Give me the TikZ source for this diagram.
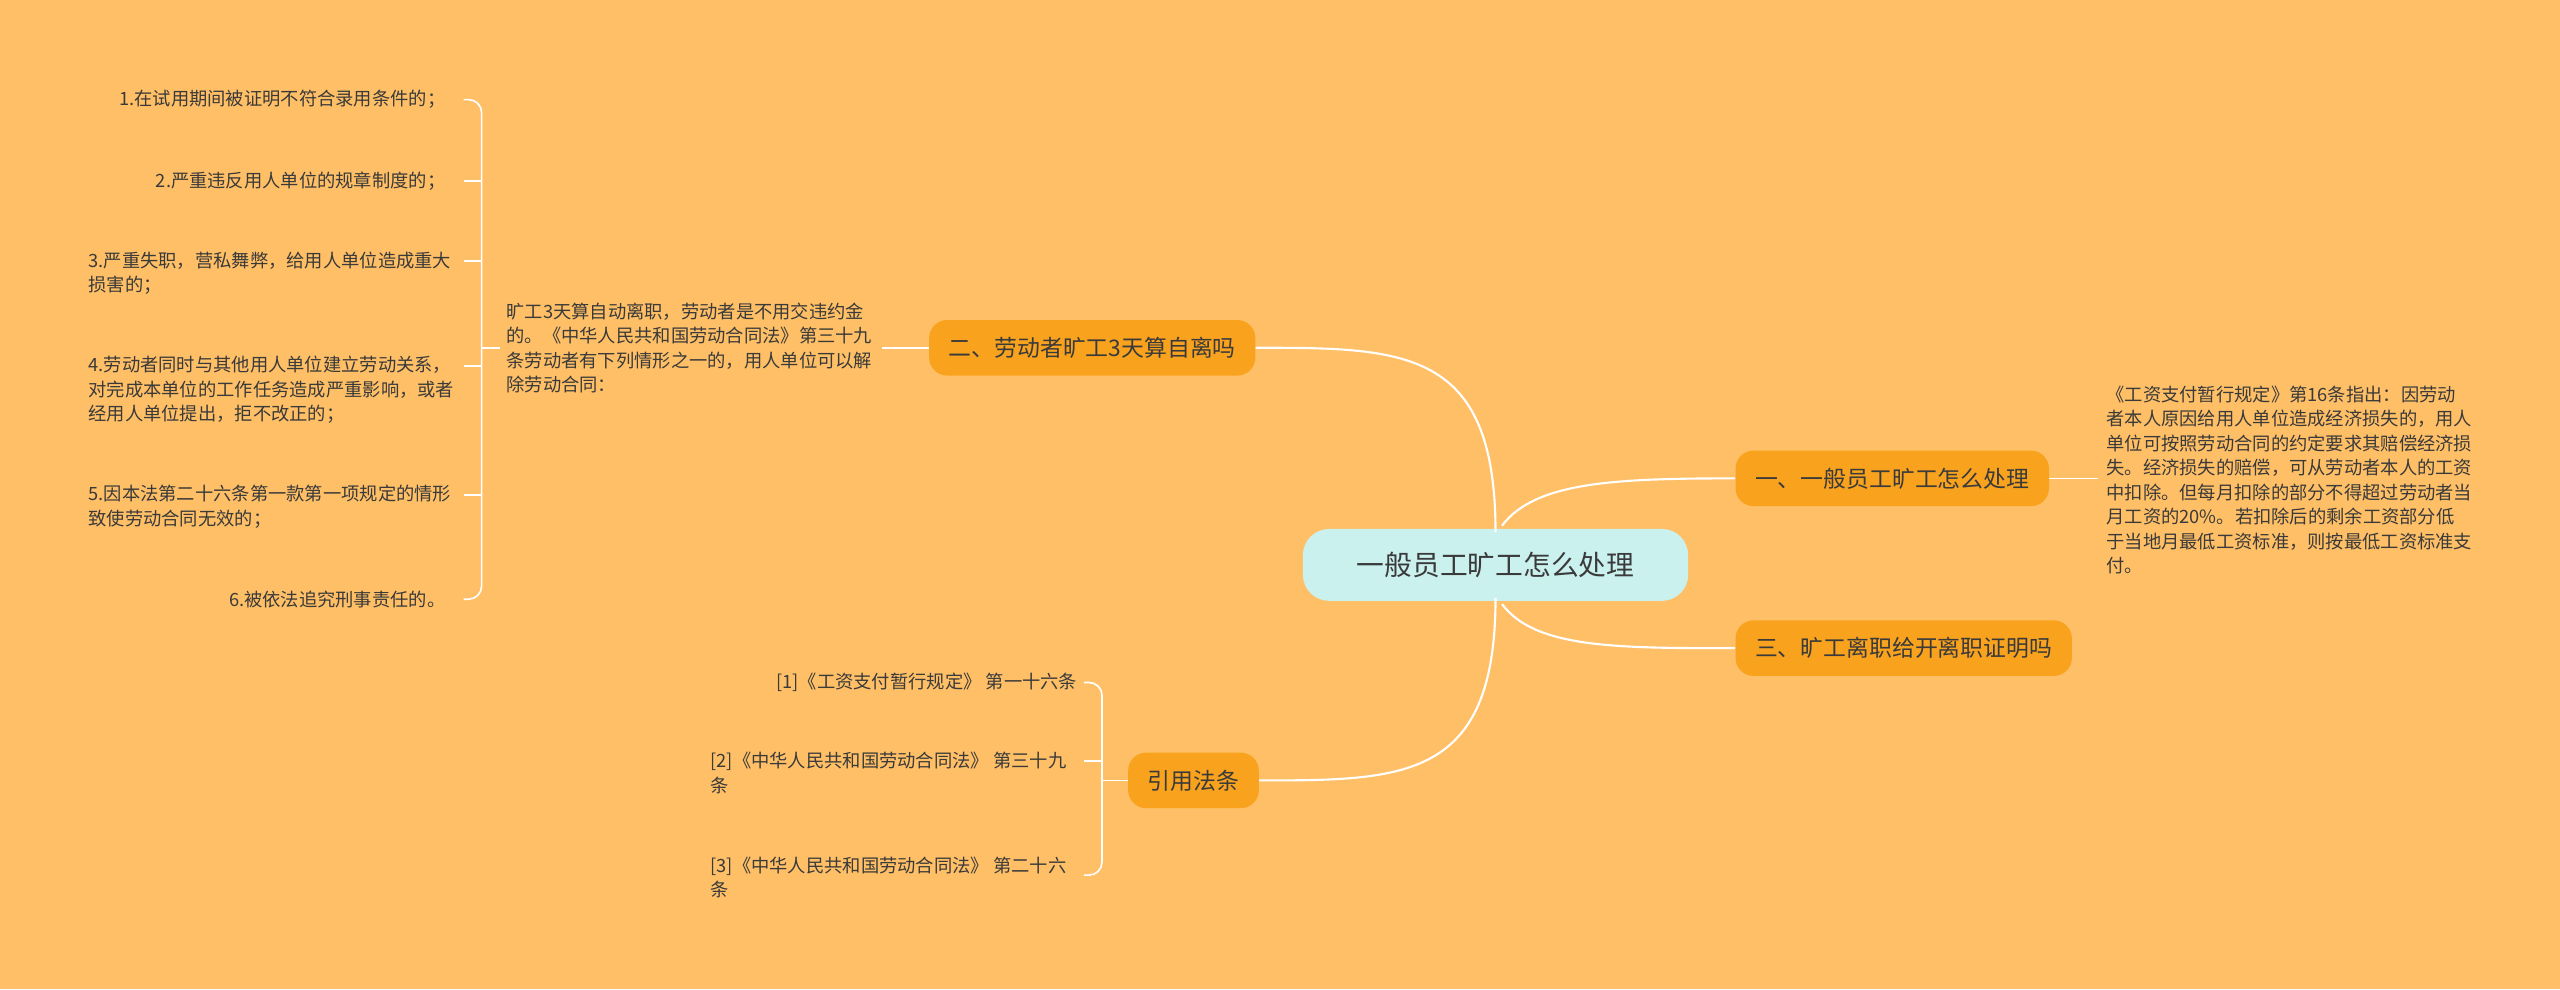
\documentclass[tikz,border=0pt]{standalone}
\usepackage{fontspec}
\setmainfont{Noto Sans CJK SC}
\definecolor{bg}{HTML}{FFBF66}
\definecolor{br}{HTML}{F8A21E}
\definecolor{ctr}{HTML}{CBF1EF}
\definecolor{tx}{HTML}{3A3A3A}
\begin{document}
\begin{tikzpicture}[x=1pt,y=-1pt,
  every node/.style={text=tx, inner sep=0pt},
  branch/.style={fill=br, rounded corners=11pt, minimum height=34pt, inner xsep=12pt, font=\fontsize{14}{16}\selectfont},
  leaf/.style={font=\fontsize{11.2}{15}\selectfont, align=left},
  leafr/.style={font=\fontsize{11.2}{15}\selectfont, align=right},
  conn/.style={draw=white, line width=1.3pt},
  thin/.style={draw=white, line width=1pt}]
\fill[bg] (0,0) rectangle (1568,606);
\useasboundingbox (0,0) rectangle (1568,606);

\node[fill=ctr, rounded corners=16pt, minimum height=44pt, minimum width=236pt, font=\fontsize{17}{20}\selectfont] (c) at (916,346) {一般员工旷工怎么处理};
\node[branch] (b2) at (669,213) {二、劳动者旷工3天算自离吗};
\node[branch] (b1) at (1159,293) {一、一般员工旷工怎么处理};
\node[branch] (b3) at (1166,397) {三、旷工离职给开离职证明吗};
\node[branch] (b4) at (731,478) {引用法条};

\draw[conn] (c.north) ++(0,2) .. controls (916,213) and (860,213) .. (b2.east);
\draw[conn] (c.south) ++(0,-2) .. controls (916,478) and (860,478) .. (b4.east);
\draw[conn] (920,322) .. controls (940,295) and (990,293) .. (b1.west);
\draw[conn] (920,370) .. controls (940,397) and (990,397) .. (b3.west);

% leaf of b2
\node[leaf, anchor=west] (t2) at (310,213) {旷工3天算自动离职，劳动者是不用交违约金\\的。《中华人民共和国劳动合同法》第三十九\\条劳动者有下列情形之一的，用人单位可以解\\除劳动合同：};
\draw[thin] (b2.west) -- (540,213);
\draw[thin] (t2.west) ++(-4,0) -- (295,213);

\node[leaf, anchor=east] (i1) at (273,61) {1.在试用期间被证明不符合录用条件的；};
\node[leaf, anchor=east] (i2) at (273,111) {2.严重违反用人单位的规章制度的；};
\node[leaf, anchor=west] (i3) at (54,167.5) {3.严重失职，营私舞弊，给用人单位造成重大\\损害的；};
\node[leaf, anchor=west] (i4) at (54,239) {4.劳动者同时与其他用人单位建立劳动关系，\\对完成本单位的工作任务造成严重影响，或者\\经用人单位提出，拒不改正的；};
\node[leaf, anchor=west] (i5) at (54,310.5) {5.因本法第二十六条第一款第一项规定的情形\\致使劳动合同无效的；};
\node[leaf, anchor=east] (i6) at (273,367) {6.被依法追究刑事责任的。};
\draw[thin, rounded corners=8pt] (284,61) -| (295,213) |- (284,367);
\foreach \y in {111,160,224,303} \draw[thin] (295,\y) -- (284,\y);

% leaf of b1
\node[leaf, anchor=west] (t1) at (1290,294) {《工资支付暂行规定》第16条指出：因劳动\\者本人原因给用人单位造成经济损失的，用人\\单位可按照劳动合同的约定要求其赔偿经济损\\失。经济损失的赔偿，可从劳动者本人的工资\\中扣除。但每月扣除的部分不得超过劳动者当\\月工资的20\%。若扣除后的剩余工资部分低\\于当地月最低工资标准，则按最低工资标准支\\付。};
\draw[thin] (b1.east) -- (1285,293);

% references
\node[leaf, anchor=east] (r1) at (660,418) {[1]《工资支付暂行规定》 第一十六条};
\node[leaf, anchor=west] (r2) at (435,473.5) {[2]《中华人民共和国劳动合同法》 第三十九\\条};
\node[leaf, anchor=west] (r3) at (435,537.5) {[3]《中华人民共和国劳动合同法》 第二十六\\条};
\draw[thin, rounded corners=8pt] (664,418) -| (675,478) |- (664,536);
\draw[thin] (675,466) -- (664,466);
\draw[thin] (b4.west) -- (675,478);
\end{tikzpicture}
\end{document}
